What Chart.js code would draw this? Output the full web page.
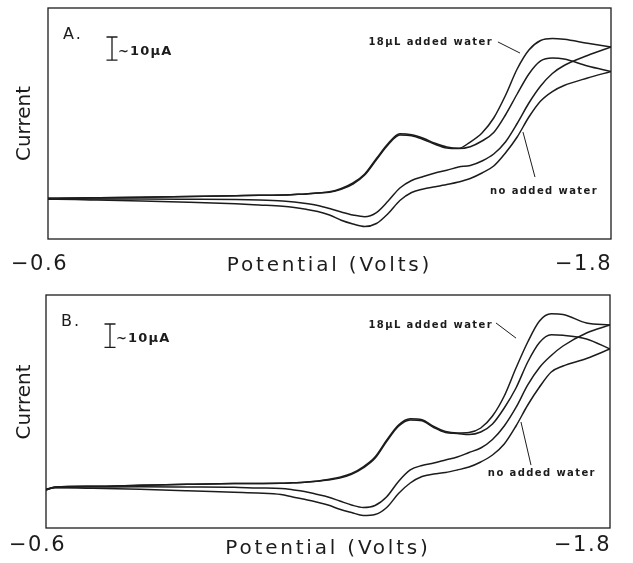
<!DOCTYPE html>
<html>
<head>
<meta charset="utf-8">
<script src="https://cdn.jsdelivr.net/npm/chart.js@4.4.1/dist/chart.umd.min.js"></script>
<style>
  html, body { margin: 0; padding: 0; background: #fff; }
  #wrap { position: relative; width: 633px; height: 563px; overflow: hidden; }
  .panel { position: absolute; left: 0; width: 633px; }
</style>
</head>
<body>
<div id="wrap">
  <div class="panel" style="top:0;height:282px"><canvas id="cvA" width="633" height="282"></canvas></div>
  <div class="panel" style="top:282px;height:281px"><canvas id="cvB" width="633" height="281"></canvas></div>
</div>
<script>
// potential grid (V) shared by every branch, scan goes -0.6 -> -1.8 and back
const potentials = [-0.60, -0.62, -0.70, -0.80, -0.90, -1.00, -1.05, -1.10, -1.125, -1.15,
  -1.175, -1.20, -1.225, -1.25, -1.275, -1.30, -1.325, -1.35, -1.375, -1.40,
  -1.425, -1.45, -1.475, -1.50, -1.525, -1.55, -1.575, -1.60, -1.625, -1.65,
  -1.675, -1.70, -1.75, -1.80];

const xTickValues = [-0.6, -1.8];
const xTickLabels = ['\u22120.6', '\u22121.8'];
const scaleBarUA = 10;

// panel A currents (µA), forward = toward -1.8, reverse = back to -0.6
const fwdWaterA = [-0.38, -0.34, -0.16, 0.09, 0.40, 0.74, 0.92, 1.05, 1.26, 1.48,
  1.91, 2.43, 3.86, 6.24, 10.14, 16.85, 23.34, 27.54, 27.11, 25.59,
  23.43, 21.83, 21.26, 23.99, 27.89, 34.38, 44.12, 55.59, 63.82, 67.93,
  68.80, 68.45, 66.72, 65.12];
const fwdDryA = [-0.38, -0.34, -0.16, 0.09, 0.40, 0.74, 0.92, 1.05, 1.26, 1.48,
  1.91, 2.2, 3.5, 5.8, 9.7, 16.3, 22.8, 27.0, 26.7, 25.1,
  23.0, 21.4, 21.18, 21.96, 24.42, 28.10, 35.68, 44.77, 53.43, 59.06,
  60.35, 59.92, 56.89, 54.51];
const revWaterA = [-0.60, -0.60, -0.69, -0.69, -0.77, -0.90, -1.12, -1.55, -1.98, -2.63,
  -3.50, -4.80, -6.31, -7.61, -8.35, -6.53, -1.55, 4.07, 7.32, 9.05,
  10.57, 11.74, 13.17, 13.82, 15.77, 18.80, 24.00, 32.00, 40.87, 48.23,
  53.65, 57.11, 61.44, 65.12];
const revDryA = [-0.81, -0.81, -1.12, -1.55, -2.07, -2.76, -3.28, -3.84, -4.36, -5.14,
  -6.09, -7.61, -9.91, -11.51, -12.59, -11.29, -6.96, -1.33, 2.13, 3.65,
  4.60, 5.59, 6.68, 8.19, 10.57, 13.60, 19.23, 26.16, 34.81, 41.74,
  45.85, 48.45, 51.70, 54.51];

// panel B currents (µA)
const fwdWaterB = [-1.69, -0.40, -0.10, 0.33, 0.76, 1.10, 1.14, 1.19, 1.40, 1.62,
  2.05, 2.82, 3.76, 5.39, 8.27, 12.47, 19.77, 26.21, 28.91, 28.48,
  25.56, 23.42, 22.78, 22.99, 24.92, 30.07, 38.65, 50.67, 61.83, 70.84,
  73.9, 73.6, 69.98, 69.13];
const fwdDryB = [-1.69, -0.40, -0.10, 0.33, 0.76, 1.10, 1.14, 1.19, 1.40, 1.62,
  2.05, 2.6, 3.4, 5.0, 7.8, 11.9, 19.2, 25.7, 28.4, 28.0,
  25.1, 23.0, 22.6, 22.13, 23.20, 26.64, 33.50, 42.09, 53.25, 61.61,
  64.9, 64.7, 63.12, 58.83];
const revWaterB = [-1.26, -0.62, -0.40, -0.31, -0.40, -0.53, -0.83, -1.05, -1.60, -2.33,
  -3.49, -4.69, -6.41, -8.13, -9.20, -8.34, -4.56, 1.96, 6.90, 8.83,
  9.90, 11.19, 12.47, 14.41, 16.34, 19.99, 25.78, 33.72, 43.38, 50.89,
  56.04, 60.11, 65.69, 69.13];
const revDryB = [-1.47, -0.75, -0.96, -1.39, -1.99, -2.67, -2.98, -3.62, -4.69, -5.64,
  -6.84, -8.13, -9.93, -11.34, -12.63, -12.20, -9.20, -3.19, 1.32, 4.11,
  5.18, 5.82, 6.90, 8.18, 10.33, 13.33, 18.05, 25.78, 34.79, 42.52,
  48.96, 51.53, 54.75, 58.83];

const INK = '#1c1c1c';
const FAMILY = '"DejaVu Sans", "Liberation Sans", sans-serif';

// layout + callout placement for each panel (callouts in V / µA)
const panelA = {
  tag: 'A.',
  curves: [fwdWaterA, fwdDryA, revWaterA, revDryA],
  pad: { top: 8, right: 22 }, xAxisHeight: 43, yAxisWidth: 48, titlePad: 4.7,
  yTitle: 'Current',
  notes: [
    { text: '18\u00b5L added water', at: [-1.5485, 67.3], from: [-1.559, 67.3], to: [-1.606, 62.5] },
    { text: 'no added water', at: [-1.7723, 2.78], from: [-1.6124, 28.3], to: [-1.638, 8.8] },
  ],
};
const panelB = {
  tag: 'B.',
  curves: [fwdWaterB, fwdDryB, revWaterB, revDryB],
  pad: { top: 13, right: 23 }, xAxisHeight: 35, yAxisWidth: 46, titlePad: 2.2,
  // leading blanks lift the rotated word a little above the middle
  yTitle: '   Current',
  notes: [
    { text: '18\u00b5L added water', at: [-1.551, 69.1], from: [-1.5574, 70.0], to: [-1.60, 63.5] },
    { text: 'no added water', at: [-1.770, 5.6], from: [-1.6106, 27.5], to: [-1.6319, 9.0] },
  ],
};

function branch(values) {
  return potentials.map((e, i) => ({ x: e, y: values[i] }));
}

function lineSet(label, values) {
  return {
    label,
    data: branch(values),
    borderColor: INK,
    borderWidth: 1.5,
    pointRadius: 0,
    cubicInterpolationMode: 'monotone',
    fill: false,
  };
}

// frame, end tick labels, scale bar, panel letter and callouts
function makeDecor(panel) {
  return {
    id: 'cvDecor',
    afterDatasetsDraw(chart) {
      // the x title is painted after this hook (grid z = 1): give it wide tracking
      chart.ctx.letterSpacing = '2.8px';
    },
    afterDraw(chart) {
      const { ctx, chartArea: a, scales: { x, y } } = chart;
      ctx.save();
      ctx.letterSpacing = '0px';
      ctx.strokeStyle = INK;
      ctx.fillStyle = INK;

      ctx.lineWidth = 1.3;
      ctx.strokeRect(a.left, a.top, a.right - a.left, a.bottom - a.top);

      // only the two ends of the potential axis are labelled
      ctx.font = `21px ${FAMILY}`;
      ctx.letterSpacing = '1.5px';
      ctx.textBaseline = 'middle';
      const ty = x.bottom - 17.7;
      x.ticks.forEach(t => {
        const k = xTickValues.indexOf(t.value);
        const px = x.getPixelForValue(t.value);
        const first = k === 0;
        ctx.textAlign = first ? 'left' : 'right';
        ctx.fillText(xTickLabels[k], first ? px - 37 : px + 1, ty);
      });

      // panel letter
      ctx.font = `16px ${FAMILY}`;
      ctx.letterSpacing = '2px';
      ctx.textAlign = 'left';
      ctx.textBaseline = 'alphabetic';
      ctx.fillText(panel.tag, a.left + 15, a.top + 31);

      // 10 µA scale bar
      const bx = a.left + 64, bt = a.top + 29;
      const bb = bt + (y.getPixelForValue(0) - y.getPixelForValue(scaleBarUA));
      ctx.lineWidth = 1.3;
      ctx.beginPath();
      ctx.moveTo(bx, bt); ctx.lineTo(bx, bb);
      ctx.moveTo(bx - 5.5, bt); ctx.lineTo(bx + 5.5, bt);
      ctx.moveTo(bx - 5.5, bb); ctx.lineTo(bx + 5.5, bb);
      ctx.stroke();
      ctx.font = `bold 13px ${FAMILY}`;
      ctx.letterSpacing = '1.2px';
      ctx.textBaseline = 'middle';
      ctx.fillText('~10\u00b5A', bx + 6, bt + 15);

      // callouts with pointer lines
      ctx.font = `bold 10px ${FAMILY}`;
      ctx.letterSpacing = '1.4px';
      ctx.lineWidth = 1;
      panel.notes.forEach(n => {
        ctx.textAlign = 'right';
        ctx.fillText(n.text, x.getPixelForValue(n.at[0]), y.getPixelForValue(n.at[1]));
        ctx.beginPath();
        ctx.moveTo(x.getPixelForValue(n.from[0]), y.getPixelForValue(n.from[1]));
        ctx.lineTo(x.getPixelForValue(n.to[0]), y.getPixelForValue(n.to[1]));
        ctx.stroke();
      });

      ctx.restore();
      ctx.letterSpacing = '0px';
    },
  };
}

function makeChart(id, panel) {
  const [fw, fd, rw, rd] = panel.curves;
  return new Chart(document.getElementById(id), {
    type: 'line',
    data: {
      datasets: [
        lineSet('18 µL added water (forward)', fw),
        lineSet('no added water (forward)', fd),
        lineSet('18 µL added water (reverse)', rw),
        lineSet('no added water (reverse)', rd),
      ],
    },
    options: {
      responsive: false,
      animation: false,
      devicePixelRatio: 1,
      layout: { padding: { top: panel.pad.top, right: panel.pad.right, left: 0, bottom: 0 } },
      plugins: { legend: { display: false }, tooltip: { enabled: false } },
      scales: {
        x: {
          type: 'linear',
          min: -1.8,
          max: -0.6,
          reverse: true,
          afterBuildTicks: s => { s.ticks = xTickValues.map(v => ({ value: v })); },
          ticks: { display: false },
          grid: { display: false, z: 1 },
          border: { display: false },
          title: {
            display: true,
            text: 'Potential (Volts)',
            color: INK,
            font: { family: FAMILY, size: 20 },
            padding: { top: 0, bottom: panel.titlePad },
          },
          afterFit: s => { s.height = panel.xAxisHeight; },
        },
        y: {
          min: -18,
          max: 82,
          ticks: { display: false },
          grid: { display: false },
          border: { display: false },
          title: {
            display: true,
            text: panel.yTitle,
            color: INK,
            font: { family: FAMILY, size: 20 },
            padding: { top: 13, bottom: 0 },
          },
          afterFit: s => { s.width = panel.yAxisWidth; },
        },
      },
    },
    plugins: [makeDecor(panel)],
  });
}

makeChart('cvA', panelA);
makeChart('cvB', panelB);
</script>
</body>
</html>
